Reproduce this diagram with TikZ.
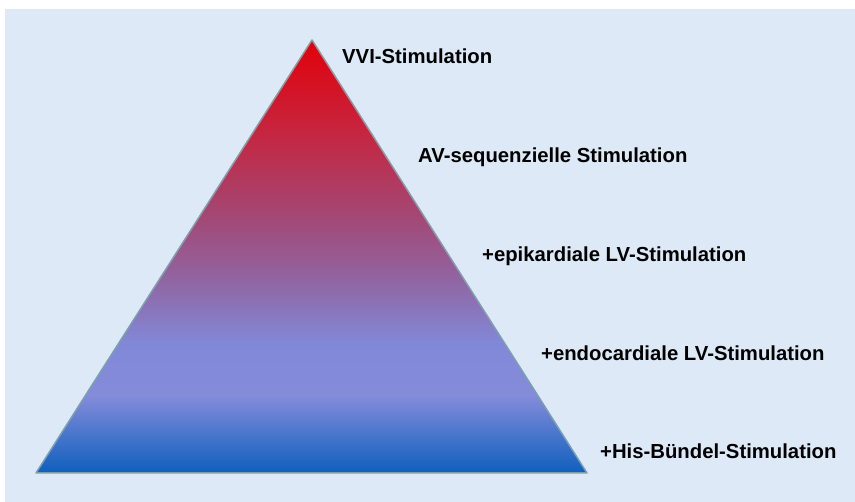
\documentclass[tikz,border=0pt]{standalone}
\usepackage{fontspec}
\setmainfont{Liberation Sans}
\definecolor{bgblue}{RGB}{221,233,247}
\definecolor{edgegray}{RGB}{125,160,168}
\definecolor{pyrred}{RGB}{226,0,10}
\definecolor{pyrcrimson}{RGB}{200,35,60}
\definecolor{pyrmauve}{RGB}{165,70,115}
\definecolor{pyrpurple}{RGB}{145,100,160}
\definecolor{pyrlav}{RGB}{130,136,216}
\definecolor{pyrlavb}{RGB}{132,140,218}
\definecolor{pyrblue}{RGB}{15,95,190}
\pgfdeclareverticalshading{pyramid}{100bp}{color(0bp)=(pyrblue); color(25bp)=(pyrblue);
  color(34bp)=(pyrlavb); color(40bp)=(pyrlav); color(47.5bp)=(pyrpurple);
  color(55bp)=(pyrmauve); color(65bp)=(pyrcrimson); color(75bp)=(pyrred); color(100bp)=(pyrred)}
\tikzset{level/.style={anchor=base west, inner sep=0pt, font=\fontsize{20.3}{24}\selectfont\bfseries}}
\begin{document}
\begin{tikzpicture}[x=1pt,y=1pt]
    \useasboundingbox (0,0) rectangle (855,502);
    \fill[bgblue] (5,0) rectangle (855,493);
    \coordinate (top) at (312,462);
    \coordinate (left) at (36,29);
    \coordinate (right) at (587,29);
    \shade[shading=pyramid, draw=edgegray, line width=1.5pt, line join=round] (top)--(right)--(left)--cycle;
    \node[level] (vvi) at (342,438) {VVI-Stimulation};
    \node[level] (av) at (418,339) {AV-sequenzielle Stimulation};
    \node[level] (epi) at (482,240) {+epikardiale LV-Stimulation};
    \node[level] (endo) at (541,141) {+endocardiale LV-Stimulation};
    \node[level] (his) at (600,43) {+His-Bündel-Stimulation};
    \end{tikzpicture}
\end{document}
